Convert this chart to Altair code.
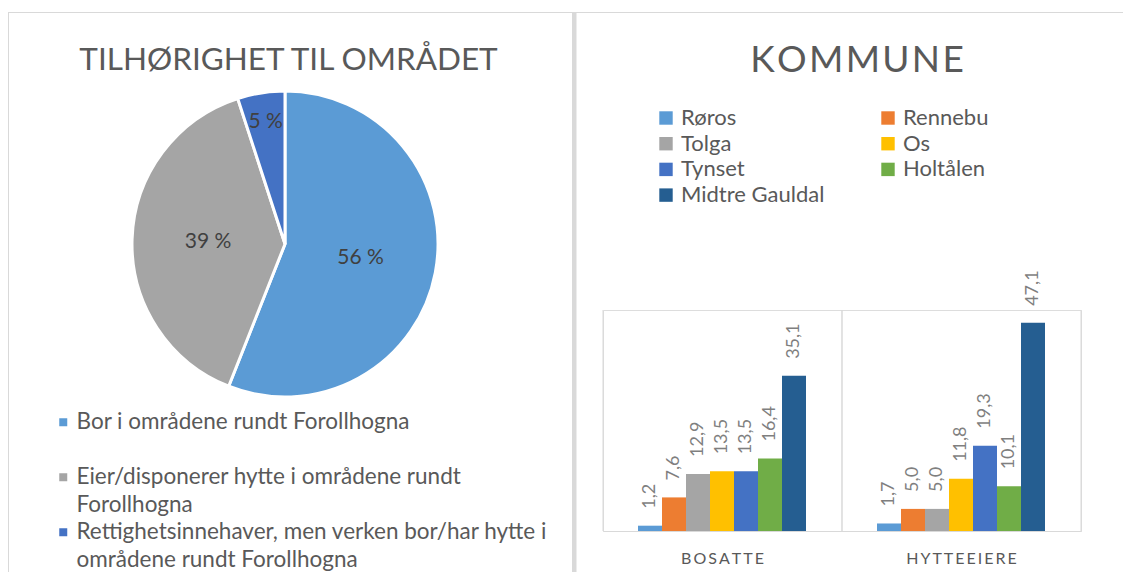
import altair as alt
import pandas as pd

# ---------------- data ----------------
pie_labels = [
    "Bor i områdene rundt Forollhogna",
    "Eier/disponerer hytte i områdene rundt\nForollhogna",
    "Rettighetsinnehaver, men verken bor/har hytte i\nområdene rundt Forollhogna",
]
pie_values = [56, 39, 5]
pie_colors = ["#5b9bd5", "#a5a5a5", "#4472c4"]

kommuner = ["Røros", "Rennebu", "Tolga", "Os", "Tynset", "Holtålen", "Midtre Gauldal"]
kommune_colors = ["#5b9bd5", "#ed7d31", "#a5a5a5", "#ffc000", "#4472c4", "#70ad47", "#255e91"]
groups = ["BOSATTE", "HYTTEEIERE"]
bosatte = [1.2, 7.6, 12.9, 13.5, 13.5, 16.4, 35.1]
hytteeiere = [1.7, 5.0, 5.0, 11.8, 19.3, 10.1, 47.1]

pie_title = "TILHØRIGHET TIL OMRÅDET"
bar_title = "KOMMUNE"

# ---------------- tables ----------------
pie_df = pd.DataFrame({"kategori": pie_labels, "andel": pie_values, "rekkefolge": list(range(len(pie_labels)))})
bar_df = pd.DataFrame({
    "gruppe": [g for g in groups for _ in kommuner],
    "kommune": kommuner * len(groups),
    "prosent": bosatte + hytteeiere,
})
group_df = pd.DataFrame({"gruppe": groups})
one_df = pd.DataFrame({"k": [0]})

FONT = "Lato"
GREY = "#595959"
LINE = "#d9d9d9"
W, H = 478, 221  # bar plot area

# ---------------- frame ----------------
top_line = alt.Chart(one_df).mark_rule(color=LINE, strokeWidth=1).encode(
    x=alt.value(-595), x2=alt.value(W + 42), y=alt.value(-297.5))
left_line = alt.Chart(one_df).mark_rule(color=LINE, strokeWidth=1).encode(
    x=alt.value(-594.5), y=alt.value(-298), y2=alt.value(H + 41))
mid_strip = alt.Chart(one_df).mark_rect(color=LINE).encode(
    x=alt.value(-31), x2=alt.value(-26.5), y=alt.value(-298), y2=alt.value(H + 41))

# ---------------- pie ----------------
CX, CY = -318, -66
theta = alt.Theta("andel:Q", stack=True)
order = alt.Order("rekkefolge:Q", sort="ascending")

pie = alt.Chart(pie_df).mark_arc(outerRadius=153, stroke="white", strokeWidth=3).encode(
    theta=theta,
    order=order,
    x=alt.value(CX), y=alt.value(CY),
    color=alt.Color(
        "kategori:N",
        scale=alt.Scale(domain=pie_labels, range=pie_colors),
        legend=alt.Legend(
            title=None, orient="none", legendX=-551, legendY=101, padding=0,
            symbolType="square", symbolSize=64, symbolStrokeWidth=0,
            labelFont=FONT, labelFontSize=22.5, labelColor=GREY, labelOffset=2,
            labelLimit=600, rowPadding=4, labelBaseline="alphabetic",
            labelExpr="indexof(datum.label, '\\n') < 0 ? [datum.label, ''] : split(datum.label, '\\n')",
        ),
    ),
)

pie_text_big = alt.Chart(pie_df).transform_calculate(
    tekst="datum.andel + ' %'"
).mark_text(radius=77, font=FONT, fontSize=21, color="#404040", baseline="middle").encode(
    theta=theta, order=order, x=alt.value(CX), y=alt.value(CY),
    text=alt.condition("datum.andel >= 10", "tekst:N", alt.value("")),
)
pie_text_small = alt.Chart(pie_df).transform_calculate(
    tekst="datum.andel + ' %'"
).mark_text(radius=124, font=FONT, fontSize=21, color="#404040", baseline="middle").encode(
    theta=theta, order=order, x=alt.value(CX), y=alt.value(CY),
    text=alt.condition("datum.andel < 10", "tekst:N", alt.value("")),
)

pie_title_mark = alt.Chart(one_df).mark_text(
    text=pie_title, font=FONT, fontSize=31.5, color=GREY, align="center", baseline="alphabetic"
).encode(x=alt.value(-314.5), y=alt.value(-240))

# ---------------- bars ----------------
x_axis = alt.Axis(
    title=None, domainColor=LINE, domainWidth=1, ticks=False, grid=False, labelAngle=0,
    labelFont=FONT, labelFontSize=16, labelColor=GREY, labelPadding=12,
    labelExpr="join(split(datum.label, ''), '\u2009')",
)
x_scale = alt.Scale(paddingInner=0, paddingOuter=0)


def X(**kw):
    return alt.X("gruppe:N", sort=groups, scale=x_scale, axis=x_axis, **kw)


xoff = alt.XOffset("kommune:N", sort=kommuner, scale=alt.Scale(paddingInner=0, range=[35, 203]))
y_enc = alt.Y("prosent:Q", scale=alt.Scale(domain=[0, 50]), axis=None)

grid0 = alt.Chart(group_df).mark_rule(color=LINE, strokeWidth=1).encode(
    x=X(bandPosition=0), y=alt.value(0), y2=alt.value(H))
grid1 = alt.Chart(group_df).mark_rule(color=LINE, strokeWidth=1).encode(
    x=X(bandPosition=1), y=alt.value(0), y2=alt.value(H))

bars = alt.Chart(bar_df).mark_bar().encode(
    x=X(), xOffset=xoff, y=y_enc,
    color=alt.Color(
        "kommune:N", sort=kommuner,
        scale=alt.Scale(domain=kommuner, range=kommune_colors),
        legend=alt.Legend(
            title=None, orient="none", legendX=52, legendY=-203, padding=0,
            direction="horizontal", columns=2, columnPadding=52, rowPadding=3.7,
            symbolType="square", symbolSize=180, symbolStrokeWidth=0,
            labelFont=FONT, labelFontSize=22, labelColor=GREY, labelOffset=4,
            labelBaseline="alphabetic", labelLimit=300,
        ),
    ),
)

bar_text = alt.Chart(bar_df).transform_calculate(
    tekst="replace(format(datum.prosent, '.1f'), '.', ',')"
).mark_text(angle=270, align="left", baseline="middle", dx=17, font=FONT, fontSize=18, color="#7f7f7f").encode(
    x=X(), xOffset=xoff, y=y_enc, text="tekst:N")

bar_title_mark = alt.Chart(one_df).mark_text(
    text="\u200a".join(bar_title), font=FONT, fontSize=37, color=GREY, align="center", baseline="alphabetic"
).encode(x=alt.value(254), y=alt.value(-238))

chart = alt.layer(
    top_line, left_line, mid_strip,
    pie, pie_text_big, pie_text_small, pie_title_mark,
    grid0, grid1, bars, bar_text, bar_title_mark,
).resolve_scale(color="independent").properties(
    width=W, height=H,
    padding={"left": 595, "top": 302, "right": 42, "bottom": 41},
    autosize=alt.AutoSizeParams(type="none"),
    background="white",
).configure_view(stroke=None).configure(
    style={"guide-label": {"dy": 7, "lineHeight": 27.5}}
)

chart.save("out.html", embed_options={"renderer": "svg", "actions": False})
